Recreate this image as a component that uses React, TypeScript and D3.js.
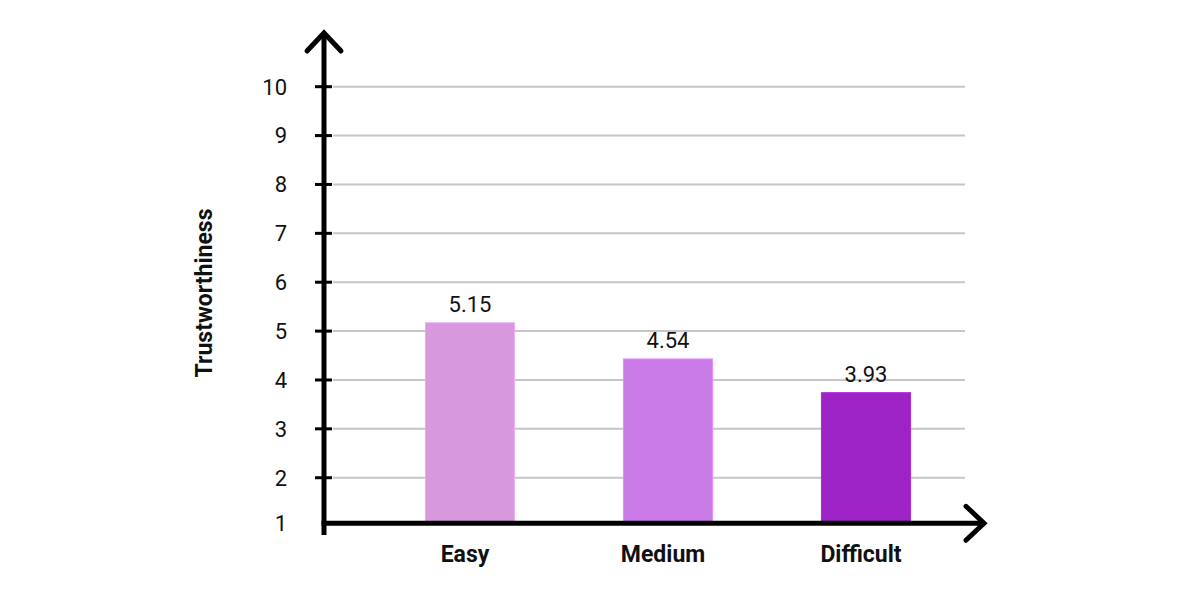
import React from "react";
import * as d3 from "d3";

const categories = ["Easy", "Medium", "Difficult"];
const barValues = [5.17, 4.43, 3.74];
const valueLabels = ["5.15", "4.54", "3.93"];
const barColors = ["#d898dd", "#cb7be8", "#9d23c6"];
const yTicks = [1, 2, 3, 4, 5, 6, 7, 8, 9, 10];
const yTitle = "Trustworthiness";

export default function App() {
  const W = 1200;
  const H = 600;
  const y = d3.scaleLinear().domain([1, 10]).range([526.6, 86.7]);
  const x = d3
    .scaleBand<string>()
    .domain(categories)
    .range([371, 965])
    .paddingInner(0.55)
    .paddingOuter(0.275);
  const axisX = 324;
  const axisY = y(1) - 3.3;
  const font = "Roboto, 'Noto Sans', sans-serif";

  return (
    <svg
      width={W}
      height={H}
      style={{ position: "absolute", left: 0, top: 0, background: "#fff" }}
      fontFamily={font}
    >
      {/* gridlines */}
      {yTicks
        .filter((t) => t > 1)
        .map((t) => (
          <line
            key={"g" + t}
            x1={axisX + 9}
            x2={965}
            y1={y(t)}
            y2={y(t)}
            stroke="#c6c6c6"
            strokeWidth={2}
          />
        ))}
      {/* bars */}
      {categories.map((c, i) => (
        <rect
          key={c}
          x={x(c)}
          y={y(barValues[i])}
          width={x.bandwidth()}
          height={axisY - y(barValues[i])}
          fill={barColors[i]}
          stroke={d3.color(barColors[i])!.brighter(0.3).toString()}
          strokeWidth={1}
        />
      ))}
      {/* value labels */}
      {categories.map((c, i) => (
        <text
          key={"v" + c}
          x={(x(c) as number) + x.bandwidth() / 2}
          y={y(barValues[i]) - 11}
          textAnchor="middle"
          fontSize={22}
          fill="#111"
        >
          {valueLabels[i]}
        </text>
      ))}
      {/* tick marks */}
      {yTicks
        .filter((t) => t > 1)
        .map((t) => (
          <line
            key={"t" + t}
            x1={axisX - 9}
            x2={axisX + 8}
            y1={y(t)}
            y2={y(t)}
            stroke="#000"
            strokeWidth={3}
          />
        ))}
      {/* tick labels */}
      {yTicks.map((t) => (
        <text
          key={"l" + t}
          x={287}
          y={t === 1 ? axisY : y(t)}
          dy="0.36em"
          textAnchor="end"
          fontSize={22}
          fill="#111"
        >
          {t}
        </text>
      ))}
      {/* y axis */}
      <line x1={axisX} x2={axisX} y1={33} y2={535} stroke="#000" strokeWidth={5} />
      <polyline
        points={`${axisX - 17},51 ${axisX},33 ${axisX + 17},51`}
        fill="none"
        stroke="#000"
        strokeWidth={5}
        strokeLinecap="round"
        strokeLinejoin="miter"
      />
      {/* x axis */}
      <line x1={axisX - 2.5} x2={984} y1={axisY} y2={axisY} stroke="#000" strokeWidth={5} />
      <polyline
        points={`966,${axisY - 17} 984,${axisY} 966,${axisY + 17}`}
        fill="none"
        stroke="#000"
        strokeWidth={5}
        strokeLinecap="round"
      />
      {/* category labels */}
      {categories.map((c) => (
        <text
          key={"c" + c}
          x={(x(c) as number) + x.bandwidth() / 2 - 5}
          y={561.5}
          textAnchor="middle"
          fontSize={23}
          fontWeight="bold"
          fill="#111"
        >
          {c}
        </text>
      ))}
      {/* y title */}
      <text
        transform={`translate(212, 293) rotate(-90)`}
        textAnchor="middle"
        fontSize={23}
        fontWeight="bold"
        fill="#111"
      >
        {yTitle}
      </text>
    </svg>
  );
}
